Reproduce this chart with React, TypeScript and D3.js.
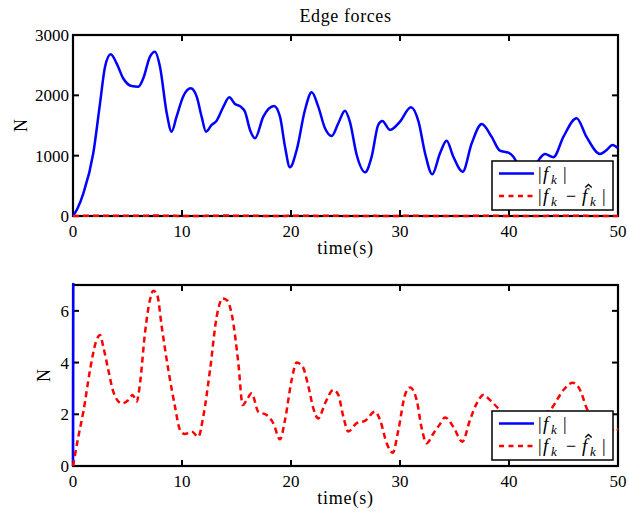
import React from 'react';
import * as d3 from 'd3';

// |f_k| : edge force magnitude (N) sampled over time (s)
const forceTime = [0, 0.4, 0.95, 1.86, 2.48, 2.94, 3.46, 4.0, 4.6, 5.38, 6.0, 6.45, 7.06, 7.52, 7.98, 8.6, 9.05, 9.5, 10.1, 10.8, 11.35, 11.8, 12.2, 12.72, 13.18, 13.8, 14.34, 14.86, 15.38, 15.78, 16.24, 16.7, 17.46, 18.44, 18.99, 19.45, 19.9, 20.52, 21.28, 21.9, 22.5, 23.12, 23.73, 24.34, 24.95, 25.4, 26.03, 26.8, 27.4, 28.0, 28.38, 29.08, 30.0, 31.0, 31.7, 32.3, 32.96, 33.67, 34.28, 34.89, 35.75, 36.58, 37.5, 38.4, 39.17, 39.94, 40.4, 41.0, 41.7, 42.3, 42.84, 43.3, 44.07, 45.0, 46.2, 47.1, 48.35, 48.96, 49.5, 50];
const forceMag = [0, 120, 376, 1040, 1868, 2475, 2680, 2530, 2283, 2155, 2144, 2283, 2641, 2724, 2475, 1703, 1398, 1646, 1978, 2117, 1978, 1646, 1398, 1509, 1580, 1812, 1968, 1857, 1812, 1729, 1426, 1288, 1646, 1824, 1646, 1149, 807, 1094, 1757, 2051, 1812, 1454, 1326, 1537, 1746, 1564, 1011, 724, 983, 1509, 1575, 1426, 1564, 1802, 1564, 1040, 691, 1040, 1248, 983, 735, 1205, 1525, 1315, 1083, 1050, 983, 800, 700, 800, 957, 1028, 973, 1315, 1620, 1315, 1028, 1094, 1177, 1122];

// |f_k - f^_k| : estimation error magnitude (N)
const errTime = [0, 0.49, 0.95, 1.56, 2.11, 2.48, 2.78, 3.24, 3.7, 4.47, 5.08, 5.47, 5.84, 6.15, 6.6, 7.06, 7.37, 7.73, 8.14, 8.75, 9.36, 9.82, 10.27, 10.89, 11.5, 11.95, 12.57, 13.18, 13.73, 14.1, 14.61, 15.17, 15.57, 15.93, 16.39, 17.0, 17.77, 18.38, 18.99, 19.45, 20.06, 20.52, 21.07, 21.6, 22.05, 22.5, 23.12, 23.88, 24.34, 24.8, 25.26, 26.0, 26.8, 27.7, 28.17, 28.78, 29.33, 29.85, 30.46, 30.92, 31.53, 31.99, 32.45, 33.06, 33.67, 34.13, 34.89, 35.72, 36.42, 37.04, 37.64, 38.26, 38.87, 39.6, 40.4, 41.2, 42.0, 42.8, 43.9, 45.0, 45.85, 46.52, 47.13, 47.8, 48.5, 49.1, 49.7, 50];
const errMag = [0, 1.13, 2.1, 3.71, 4.81, 5.07, 4.61, 3.71, 2.87, 2.42, 2.55, 2.75, 2.49, 3.2, 5.13, 6.42, 6.78, 6.61, 5.39, 3.71, 2.29, 1.39, 1.24, 1.33, 1.13, 1.91, 3.71, 5.77, 6.48, 6.42, 5.77, 3.97, 2.36, 2.55, 2.81, 2.1, 1.97, 1.65, 1.03, 1.78, 3.33, 4.0, 3.84, 3.07, 2.23, 1.84, 2.42, 2.94, 2.75, 1.91, 1.33, 1.65, 1.75, 2.1, 1.78, 0.88, 0.51, 1.39, 2.75, 3.04, 2.55, 1.46, 0.88, 1.26, 1.62, 1.88, 1.52, 0.94, 1.78, 2.42, 2.75, 2.55, 2.29, 1.9, 1.4, 1.3, 1.6, 1.9, 2.23, 2.94, 3.22, 2.94, 2.23, 1.7, 1.3, 1.25, 1.46, 1.4];

const timeTicks = [0, 10, 20, 30, 40, 50];
const forceTicks = [0, 1000, 2000, 3000];
const errTicks = [0, 2, 4, 6];

const titleText = 'Edge forces';
const xLabelText = 'time(s)';
const yLabelText = 'N';

const W = 629;
const H = 514;
const X0 = 73;
const X1 = 618;
const SERIF = "'Liberation Serif', 'Times New Roman', serif";
const BLUE = '#0000ff';
const RED = '#ff0000';
const DASH = '6,4';

type Pt = [number, number];

const forceSeries: Pt[] = forceTime.map((t, i) => [t, forceMag[i]]);
const errSeries: Pt[] = errTime.map((t, i) => [t, errMag[i]]);

const txt = (size: number, extra: React.CSSProperties = {}): React.CSSProperties => ({
  fontFamily: SERIF,
  fontSize: size,
  ...extra,
});

// Math-style legend entry: |f_k| or |f_k - f^_k|, glyphs placed one by one
function LegendLabel({ x, y, hat }: { x: number; y: number; hat: boolean }) {
  const up = txt(18);
  const it = txt(19, { fontStyle: 'italic' });
  const sub = txt(13, { fontStyle: 'italic' });
  const bar = (dx: number) => (
    <text x={x + dx} y={y} style={up} fill="#000">|</text>
  );
  const f = (dx: number) => (
    <text x={x + dx} y={y} style={it} fill="#000">f</text>
  );
  const k = (dx: number) => (
    <text x={x + dx} y={y + 4} style={sub} fill="#000">k</text>
  );
  if (!hat) {
    return (
      <g>
        {bar(0)}
        {f(5)}
        {k(13)}
        {bar(25)}
      </g>
    );
  }
  // circumflex accent over the estimated f
  const hx = x + 50.5;
  const hy = y - 17.5;
  return (
    <g>
      {bar(0)}
      {f(5)}
      {k(13)}
      <text x={x + 28} y={y} style={up} fill="#000">{'\u2212'}</text>
      {f(44)}
      <path
        d={`M${hx - 3.2},${hy + 3}L${hx},${hy}L${hx + 3.2},${hy + 3}`}
        fill="none"
        stroke="#000"
        strokeWidth={1.3}
        strokeLinejoin="miter"
      />
      {k(52)}
      {bar(64)}
    </g>
  );
}

function Panel({
  id,
  top,
  bottom,
  yMax,
  yTicks,
  yLabelX,
  legendTop,
  showTitle,
}: {
  id: string;
  top: number;
  bottom: number;
  yMax: number;
  yTicks: number[];
  yLabelX: number;
  legendTop: number;
  showTitle: boolean;
}) {
  const x = d3.scaleLinear().domain([0, 50]).range([X0, X1]);
  const y = d3.scaleLinear().domain([0, yMax]).range([bottom, top]);
  const line = d3
    .line<Pt>()
    .x((d) => x(d[0]))
    .y((d) => y(d[1]))
    .curve(d3.curveMonotoneX);
  const tickLen = 6;
  const midY = (top + bottom) / 2;
  const midX = (X0 + X1) / 2;
  const lgX0 = 492;
  const lgX1 = 613;
  const lgH = 49;
  const row1 = legendTop + 12.5;
  const row2 = legendTop + 35;

  return (
    <g>
      <defs>
        <clipPath id={id}>
          <rect x={X0 - 2} y={top - 2} width={X1 - X0 + 4} height={bottom - top + 4} />
        </clipPath>
      </defs>
      <rect x={X0} y={top} width={X1 - X0} height={bottom - top} fill="#fff" />

      {/* ticks on all four sides, pointing inward */}
      {timeTicks.map((t) => (
        <g key={'xt' + t}>
          <line x1={x(t)} x2={x(t)} y1={bottom} y2={bottom - tickLen} stroke="#000" strokeWidth={2} />
          <line x1={x(t)} x2={x(t)} y1={top} y2={top + tickLen} stroke="#000" strokeWidth={2} />
          <text x={x(t)} y={bottom + 21} textAnchor="middle" style={txt(17)} fill="#000">
            {t}
          </text>
        </g>
      ))}
      {yTicks.map((v) => (
        <g key={'yt' + v}>
          <line x1={X0} x2={X0 + tickLen} y1={y(v)} y2={y(v)} stroke="#000" strokeWidth={2} />
          <line x1={X1} x2={X1 - tickLen} y1={y(v)} y2={y(v)} stroke="#000" strokeWidth={2} />
          <text x={69} y={y(v) + 6} textAnchor="end" style={txt(17)} fill="#000">
            {v}
          </text>
        </g>
      ))}

      <rect x={X0} y={top} width={X1 - X0} height={bottom - top} fill="none" stroke="#000" strokeWidth={2.2} />

      <g clipPath={`url(#${id})`}>
        <path d={line(forceSeries) ?? ''} fill="none" stroke={BLUE} strokeWidth={2.5} strokeLinejoin="round" />
        <path d={line(errSeries) ?? ''} fill="none" stroke={RED} strokeWidth={2.5} strokeDasharray={DASH} />
      </g>

      {showTitle && (
        <text x={midX} y={22} textAnchor="middle" style={txt(18, { letterSpacing: '0.6px' })} fill="#000">
          {titleText}
        </text>
      )}
      <text x={midX} y={bottom + 38} textAnchor="middle" style={txt(18, { letterSpacing: '0.8px' })} fill="#000">
        {xLabelText}
      </text>
      <text
        x={yLabelX}
        y={midY}
        textAnchor="middle"
        transform={`rotate(-90 ${yLabelX} ${midY})`}
        style={txt(18)}
        fill="#000"
      >
        {yLabelText}
      </text>

      <g>
        <rect x={lgX0} y={legendTop} width={lgX1 - lgX0} height={lgH} fill="#fff" stroke="#000" strokeWidth={1.5} />
        <line x1={499} x2={534} y1={row1} y2={row1} stroke={BLUE} strokeWidth={2.5} />
        <line x1={499} x2={534} y1={row2} y2={row2} stroke={RED} strokeWidth={2.5} strokeDasharray="5,4.5" />
        <LegendLabel x={538} y={row1 + 6} hat={false} />
        <LegendLabel x={538} y={row2 + 6} hat={true} />
      </g>
    </g>
  );
}

export default function App() {
  return (
    <svg
      width={W}
      height={H}
      viewBox={`0 0 ${W} ${H}`}
      style={{ position: 'absolute', left: 0, top: 0, background: '#fff' }}
    >
      <rect x={0} y={0} width={W} height={H} fill="#fff" />
      <Panel id="clip-force" top={35} bottom={216} yMax={3000} yTicks={forceTicks} yLabelX={27} legendTop={161} showTitle />
      <Panel id="clip-err" top={285} bottom={466} yMax={7} yTicks={errTicks} yLabelX={50} legendTop={411} showTitle={false} />
    </svg>
  );
}
